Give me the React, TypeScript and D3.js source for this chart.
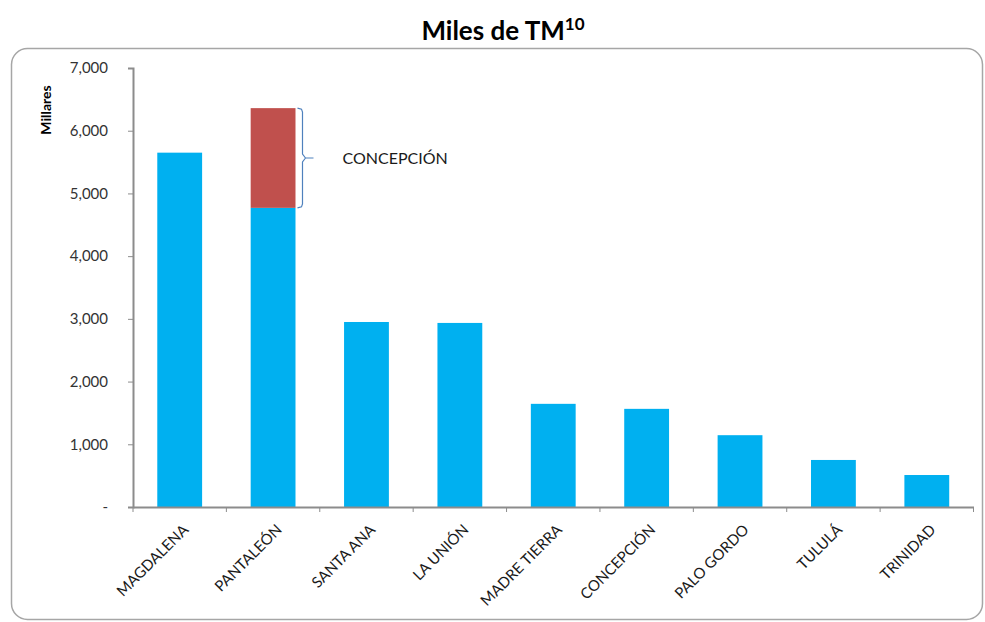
import { useEffect, useRef } from 'react';
import * as d3 from 'd3';

// Ingenios and production (thousands of TM)
const categories = [
  'MAGDALENA',
  'PANTALEÓN',
  'SANTA ANA',
  'LA UNIÓN',
  'MADRE TIERRA',
  'CONCEPCIÓN',
  'PALO GORDO',
  'TULULÁ',
  'TRINIDAD',
];
const baseValues = [5650, 4770, 2950, 2935, 1645, 1565, 1145, 750, 510];
// Concepción stacked on top of Pantaleón
const stackedValues = [0, 1590, 0, 0, 0, 0, 0, 0, 0];
const yTicks = [0, 1000, 2000, 3000, 4000, 5000, 6000, 7000];
const bracketLabel = 'CONCEPCIÓN';

export default function App() {
  const ref = useRef<SVGSVGElement>(null);

  useEffect(() => {
    const width = 985;
    const height = 622;
    const margin = { top: 68, right: 11, bottom: 115, left: 133 };
    const font = 'Lato, "Open Sans", sans-serif';

    const svg = d3.select(ref.current);
    svg.selectAll('*').remove();

    // chart frame
    svg
      .append('rect')
      .attr('x', 11.5)
      .attr('y', 48.5)
      .attr('width', 971)
      .attr('height', 571)
      .attr('rx', 16)
      .attr('fill', 'white')
      .attr('stroke', '#a6a6a6')
      .attr('stroke-width', 1.5);

    // title
    const title = svg
      .append('text')
      .attr('x', 503)
      .attr('y', 40)
      .attr('text-anchor', 'middle')
      .attr('font-family', 'Lato, sans-serif')
      .attr('font-weight', 'bold')
      .attr('font-size', 26)
      .attr('fill', '#000');
    title.append('tspan').text('Miles de TM');
    title
      .append('tspan')
      .attr('font-size', 17)
      .attr('dy', -10)
      .text('10');

    const x = d3
      .scaleBand<string>()
      .domain(categories)
      .range([margin.left, width - margin.right - 0.5]);
    const y = d3
      .scaleLinear()
      .domain([0, 7000])
      .range([height - margin.bottom, margin.top]);

    const barW = x.bandwidth() * 0.48;
    const cx = (c: string) => (x(c) ?? 0) + x.bandwidth() / 2;

    // bars
    svg
      .append('g')
      .selectAll('rect')
      .data(categories)
      .join('rect')
      .attr('x', d => cx(d) - barW / 2)
      .attr('width', barW)
      .attr('y', (d, i) => y(baseValues[i]))
      .attr('height', (d, i) => y(0) - y(baseValues[i]))
      .attr('fill', '#00b0f0');

    svg
      .append('g')
      .selectAll('rect')
      .data(categories.filter((d, i) => stackedValues[i] > 0))
      .join('rect')
      .attr('x', d => cx(d) - barW / 2)
      .attr('width', barW)
      .attr('y', d => {
        const i = categories.indexOf(d);
        return y(baseValues[i] + stackedValues[i]);
      })
      .attr('height', d => {
        const i = categories.indexOf(d);
        return y(baseValues[i]) - y(baseValues[i] + stackedValues[i]);
      })
      .attr('fill', '#c0504d');

    // bracket next to the stacked part
    const si = stackedValues.findIndex(v => v > 0);
    const sc = categories[si];
    const bx = cx(sc) + barW / 2 + 2;
    const yTop = y(baseValues[si] + stackedValues[si]);
    const yBot = y(baseValues[si]);
    const yMid = (yTop + yBot) / 2;
    const path = d3.path();
    path.moveTo(bx, yTop);
    path.lineTo(bx + 4, yTop + 1);
    path.lineTo(bx + 5, yTop + 4);
    path.lineTo(bx + 5, yMid - 4);
    path.lineTo(bx + 8, yMid);
    path.lineTo(bx + 16, yMid);
    path.moveTo(bx + 8, yMid);
    path.lineTo(bx + 5, yMid + 4);
    path.lineTo(bx + 5, yBot - 4);
    path.lineTo(bx + 4, yBot - 1);
    path.lineTo(bx, yBot);
    svg
      .append('path')
      .attr('d', path.toString())
      .attr('fill', 'none')
      .attr('stroke', '#4f81bd')
      .attr('stroke-width', 1.2);
    svg
      .append('text')
      .attr('x', bx + 45)
      .attr('y', yMid + 6)
      .attr('font-family', font)
      .attr('font-size', 16)
      .attr('fill', '#1a1a1a')
      .text(bracketLabel);

    // y axis
    const yAxis = svg
      .append('g')
      .attr('transform', `translate(${margin.left},0)`)
      .call(
        d3
          .axisLeft(y)
          .tickValues(yTicks)
          .tickSize(5)
          .tickPadding(20)
          .tickFormat(d => (+d === 0 ? '-' : d3.format(',')(+d)))
      );
    yAxis.select('.domain').attr('stroke', '#8c8c8c').attr('stroke-width', 2);
    yAxis.selectAll('.tick line').attr('stroke', '#8c8c8c');
    yAxis
      .selectAll('.tick text')
      .attr('font-family', font)
      .attr('font-size', 15)
      .attr('fill', '#333');

    // x axis
    const xAxis = svg
      .append('g')
      .attr('transform', `translate(0,${y(0)})`)
      .call(d3.axisBottom(x).tickSize(0).tickFormat(() => ''));
    xAxis.select('.domain').attr('stroke', '#8c8c8c').attr('stroke-width', 2);
    const xr = x.range();
    xAxis
      .selectAll('line.sep')
      .data(d3.range(categories.length + 1))
      .join('line')
      .attr('class', 'sep')
      .attr('x1', i => xr[0] + i * x.step())
      .attr('x2', i => xr[0] + i * x.step())
      .attr('y1', 0)
      .attr('y2', 5)
      .attr('stroke', '#8c8c8c');

    svg
      .append('g')
      .selectAll('text')
      .data(categories)
      .join('text')
      .attr('transform', d => `translate(${cx(d) + 6},${y(0) + 20}) rotate(-45)`)
      .attr('text-anchor', 'end')
      .attr('dy', '0.35em')
      .attr('font-family', font)
      .attr('font-size', 15)
      .attr('fill', '#1a1a1a')
      .text(d => d);

    // y axis title
    svg
      .append('text')
      .attr('transform', 'translate(51,110) rotate(-90)')
      .attr('text-anchor', 'middle')
      .attr('font-family', font)
      .attr('font-size', 14)
      .attr('font-weight', 'bold')
      .attr('fill', '#000')
      .text('Millares');
  }, []);

  return (
    <svg
      ref={ref}
      width={985}
      height={622}
      style={{ position: 'absolute', left: 0, top: 0, background: 'white' }}
    />
  );
}
